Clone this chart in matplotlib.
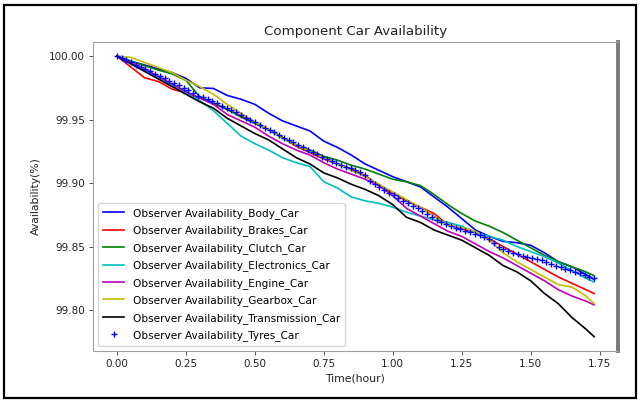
import numpy as np
import matplotlib
matplotlib.use("Agg")
import matplotlib.pyplot as plt
from matplotlib.patches import Rectangle

# Sample times (hours) for the component curves
time_h = [0.00, 0.05, 0.10, 0.15, 0.20, 0.25, 0.30, 0.35, 0.40, 0.45,
          0.50, 0.55, 0.60, 0.65, 0.70, 0.75, 0.80, 0.85, 0.90, 0.95,
          1.00, 1.05, 1.10, 1.15, 1.20, 1.25, 1.30, 1.35, 1.40, 1.45,
          1.50, 1.55, 1.60, 1.65, 1.70, 1.73]

body = [100.000, 99.996, 99.993, 99.990, 99.987, 99.9825, 99.975, 99.9745, 99.969, 99.966,
        99.962, 99.955, 99.949, 99.945, 99.941, 99.933, 99.928, 99.922, 99.915, 99.910,
        99.905, 99.901, 99.897, 99.889, 99.881, 99.872, 99.863, 99.858, 99.854, 99.853,
        99.851, 99.845, 99.838, 99.834, 99.828, 99.824]

brakes = [100.000, 99.9915, 99.983, 99.980, 99.974, 99.971, 99.967, 99.963, 99.958, 99.953,
          99.948, 99.942, 99.936, 99.929, 99.924, 99.919, 99.915, 99.911, 99.906, 99.898,
          99.892, 99.886, 99.881, 99.876, 99.867, 99.864, 99.861, 99.856, 99.850, 99.844,
          99.838, 99.832, 99.826, 99.821, 99.816, 99.813]

clutch = [100.000, 99.996, 99.9925, 99.989, 99.986, 99.981, 99.968, 99.963, 99.958, 99.952,
          99.947, 99.942, 99.936, 99.930, 99.926, 99.921, 99.918, 99.914, 99.911, 99.907,
          99.903, 99.901, 99.898, 99.891, 99.883, 99.876, 99.870, 99.866, 99.861, 99.855,
          99.849, 99.843, 99.838, 99.834, 99.830, 99.827]

electronics = [100.000, 99.995, 99.989, 99.983, 99.977, 99.971, 99.965, 99.957, 99.947, 99.937,
               99.931, 99.926, 99.920, 99.916, 99.913, 99.901, 99.896, 99.889, 99.886, 99.884,
               99.881, 99.877, 99.874, 99.871, 99.869, 99.866, 99.861, 99.858, 99.855, 99.850,
               99.846, 99.842, 99.837, 99.831, 99.825, 99.822]

engine = [100.000, 99.995, 99.990, 99.984, 99.978, 99.972, 99.967, 99.962, 99.954, 99.949,
          99.944, 99.937, 99.931, 99.926, 99.922, 99.916, 99.911, 99.907, 99.903, 99.898,
          99.890, 99.880, 99.874, 99.868, 99.862, 99.858, 99.852, 99.846, 99.841, 99.835,
          99.829, 99.823, 99.816, 99.811, 99.807, 99.804]

gearbox = [100.000, 99.999, 99.995, 99.991, 99.987, 99.981, 99.976, 99.970, 99.962, 99.955,
           99.948, 99.942, 99.935, 99.930, 99.925, 99.920, 99.915, 99.910, 99.905, 99.899,
           99.893, 99.887, 99.881, 99.874, 99.867, 99.865, 99.862, 99.855, 99.845, 99.838,
           99.832, 99.826, 99.820, 99.818, 99.811, 99.805]

transmission = [100.000, 99.994, 99.988, 99.982, 99.976, 99.970, 99.964, 99.959, 99.951, 99.945,
                99.939, 99.934, 99.927, 99.920, 99.915, 99.908, 99.904, 99.899, 99.895, 99.890,
                99.883, 99.873, 99.869, 99.863, 99.859, 99.855, 99.849, 99.843, 99.835, 99.830,
                99.823, 99.813, 99.805, 99.794, 99.785, 99.779]

# Tyres are sampled more densely and drawn as markers
tyres_time = np.linspace(0.0, 1.73, 101)
tyres = [100.0000, 99.9985, 99.9968, 99.9955, 99.9932, 99.9915, 99.9898, 99.9880, 99.9858, 99.9842,
         99.9826, 99.9805, 99.9790, 99.9772, 99.9752, 99.9730, 99.9708, 99.9688, 99.9675, 99.9660,
         99.9645, 99.9628, 99.9610, 99.9592, 99.9575, 99.9558, 99.9535, 99.9512, 99.9495, 99.9478,
         99.9455, 99.9435, 99.9418, 99.9400, 99.9378, 99.9355, 99.9338, 99.9320, 99.9302, 99.9282,
         99.9262, 99.9245, 99.9228, 99.9206, 99.9188, 99.9172, 99.9158, 99.9140, 99.9125, 99.9115,
         99.9102, 99.9090, 99.9060, 99.9015, 99.8990, 99.8965, 99.8945, 99.8922, 99.8905, 99.8885,
         99.8862, 99.8845, 99.8822, 99.8800, 99.8778, 99.8755, 99.8730, 99.8712, 99.8695, 99.8678,
         99.8660, 99.8648, 99.8635, 99.8622, 99.8612, 99.8600, 99.8590, 99.8578, 99.8562, 99.8530,
         99.8500, 99.8482, 99.8465, 99.8452, 99.8440, 99.8428, 99.8415, 99.8408, 99.8400, 99.8390,
         99.8375, 99.8362, 99.8350, 99.8338, 99.8325, 99.8312, 99.8300, 99.8290, 99.8275, 99.8262,
         99.8250]

x_ticks = [0.00, 0.25, 0.50, 0.75, 1.00, 1.25, 1.50, 1.75]
y_ticks = [99.80, 99.85, 99.90, 99.95, 100.00]

series = [
    ("Observer Availability_Body_Car", body, (0, 0, 1)),
    ("Observer Availability_Brakes_Car", brakes, (1, 0, 0)),
    ("Observer Availability_Clutch_Car", clutch, (0, 0.5, 0)),
    ("Observer Availability_Electronics_Car", electronics, (0, 0.75, 0.75)),
    ("Observer Availability_Engine_Car", engine, (0.75, 0, 0.75)),
    ("Observer Availability_Gearbox_Car", gearbox, (0.75, 0.75, 0)),
    ("Observer Availability_Transmission_Car", transmission, (0, 0, 0)),
]

plt.rcParams['font.family'] = ['DejaVu Sans']

fig = plt.figure(figsize=(6.4, 4.01), dpi=100)
ax = fig.add_axes([0.1453, 0.1247, 0.8203, 0.7706])

for label, vals, col in series:
    ax.plot(time_h, vals, color=col, lw=1.2, label=label)
ax.plot(tyres_time, tyres, '+', color=(0, 0, 1), ms=5, mew=1.0,
        label="Observer Availability_Tyres_Car")

ax.set_xticks(x_ticks)
ax.set_xticklabels([f"{v:.2f}" for v in x_ticks])
ax.set_yticks(y_ticks)
ax.set_yticklabels([f"{v:.2f}" for v in y_ticks])
ax.set_xlim(-0.0865, 1.8165)
ax.set_ylim(99.7677, 100.0111)

ax.tick_params(labelsize=7.5, length=2.8, width=0.7, color='#555555',
               labelcolor='#222222', pad=3)
for side in ['left', 'top', 'bottom']:
    ax.spines[side].set_color('#a0a0a0')
    ax.spines[side].set_linewidth(0.8)
ax.spines['right'].set_color('#7a7a7a')
ax.spines['right'].set_linewidth(2.8)

ax.set_title("Component Car Availability", fontsize=9.6, color='#222222', pad=5)
ax.set_xlabel("Time(hour)", fontsize=7.8, color='#222222', labelpad=3)
ax.set_ylabel("Availability(%)", fontsize=7.8, color='#222222', labelpad=6)

ax.legend(loc='lower left', fontsize=7.6, handlelength=2.0, labelspacing=0.62,
          borderpad=0.45, framealpha=0.8, edgecolor='#cccccc')

# Black frame around the whole figure
fig.patches.append(Rectangle((0.0065, 0.0075), 0.987, 0.98, transform=fig.transFigure,
                             fill=False, edgecolor='black', lw=1.6))

fig.savefig("out.png", dpi=100)
